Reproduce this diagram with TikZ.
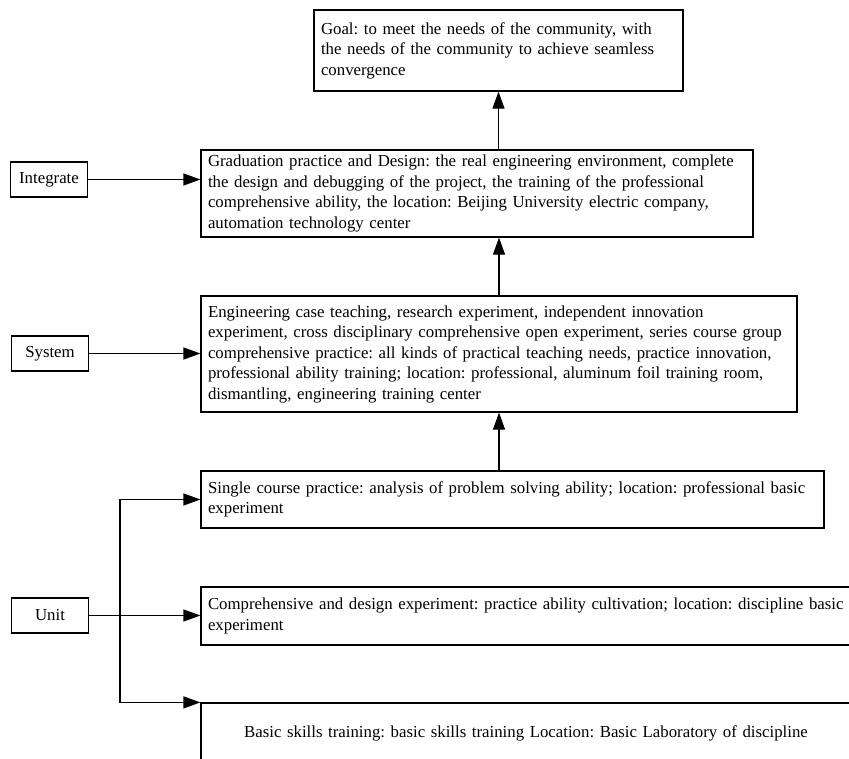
\documentclass[tikz,border=0pt]{standalone}
\usepackage{fontspec}
\setmainfont{Liberation Serif}
\usetikzlibrary{arrows.meta}
\frenchspacing

\begin{document}
\begin{tikzpicture}[x=1pt, y=-1pt, >={Triangle[length=17pt, width=12pt]}, line width=1.2pt,
    block/.style={draw, align=left, inner xsep=7pt, inner ysep=0pt, font=\fontsize{16.8}{20.5}\selectfont},
    tag/.style={draw, minimum width=77pt, minimum height=35pt, font=\fontsize{16.8}{20.5}\selectfont}]
    \useasboundingbox (0, 0) rectangle (849, 758);
    \clip (0, 0) rectangle (849, 758);
    \node [block, text width=355pt, minimum height=81pt] (goal) at (498.5, 50.5) {Goal: to meet the needs of the community, with\\the needs of the community to achieve seamless\\convergence};
    \node [block, text width=538pt, minimum height=87pt] (grad) at (477, 193.5) {Graduation practice and Design: the real engineering environment, complete\\the design and debugging of the project, the training of the professional\\comprehensive ability, the location: Beijing University electric company,\\automation technology center};
    \node [block, text width=582pt, minimum height=116pt] (sys) at (499, 354) {Engineering case teaching, research experiment, independent innovation\\experiment, cross disciplinary comprehensive open experiment, series course group\\comprehensive practice: all kinds of practical teaching needs, practice innovation,\\professional ability training; location: professional, aluminum foil training room,\\dismantling, engineering training center};
    \node [block, text width=609pt, minimum height=57pt] (single) at (512.5, 499.5) {Single course practice: analysis of problem solving ability; location: professional basic\\experiment};
    \node [block, text width=646pt, minimum height=58pt] (comp) at (531, 616) {Comprehensive and design experiment: practice ability cultivation; location: discipline basic\\experiment};
    \node [block, align=center, text width=636pt, minimum height=60pt] (basic) at (526, 733) {Basic skills training: basic skills training Location: Basic Laboratory of discipline};
    \node [tag] (integ) at (49, 179.5) {Integrate};
    \node [tag] (systag) at (50, 353.5) {System};
    \node [tag] (unit) at (50, 615.5) {Unit};
    \coordinate (fork) at (120, 616);
    \draw [->] (goal.south |- grad.north) -- (goal.south);
    \draw [->] (sys.north) -- (sys.north |- grad.south);
    \draw [->] (sys.south |- single.north) -- (sys.south);
    \draw [->] (integ.east) -- (integ.east -| grad.west);
    \draw [->] (systag.east) -- (systag.east -| sys.west);
    \draw [->] (unit.east) -- (unit.east -| comp.west);
    \draw [->] (fork) |- (single.west);
    \draw [->] (fork) |- (basic.north west);
\end{tikzpicture}
\end{document}
